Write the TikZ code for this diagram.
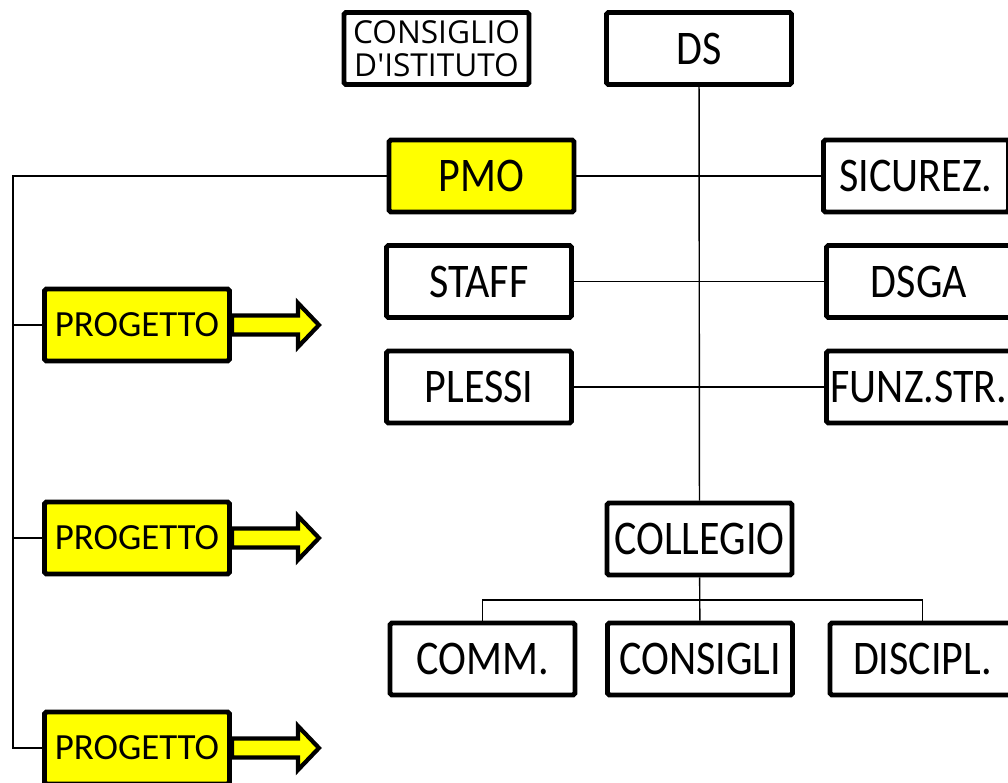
\documentclass[tikz,border=0pt]{standalone}
\usepackage{fontspec}
\setmainfont{Carlito}
\newfontfamily\boxfont[FakeStretch=0.87]{Carlito}
\newfontfamily\titlefont{Open Sans}
\usepackage{tikz}
\usetikzlibrary{positioning}
\definecolor{projyellow}{RGB}{255,255,0}

\begin{document}
\begin{tikzpicture}[x=0.02cm, y=-0.02cm,
    unit/.style={rectangle, draw=black, fill=white, line width=2.8pt, rounded corners=1pt,
                 minimum width=3.7cm, minimum height=1.44cm, inner sep=0pt, text centered,
                 font=\boxfont\fontsize{27.5}{30}\selectfont},
    project/.style={unit, fill=projyellow, font=\fontsize{21}{24}\selectfont},
    flowarrow/.pic={\draw[line width=2.4pt, fill=projyellow, line join=miter]
                    (0,-9.5) -- (66,-9.5) -- (66,-22) -- (87,0) -- (66,22) -- (66,9.5) -- (0,9.5) -- cycle;},
    link/.style={line width=0.8pt}
]
\useasboundingbox (0,0) rectangle (1008,783);

% Top
\node[unit, font=\titlefont\fontsize{18}{18.7}\selectfont, align=center] (consiglio) at (436.5, 48.5) {CONSIGLIO\\D\textquotesingle ISTITUTO};
\node[unit] (ds) at (699, 48.5) {DS};

% Middle
\node[unit, fill=projyellow] (pmo) at (481.5, 176) {PMO};
\node[unit] (sicur) at (916, 176) {SICUREZ.};
\node[unit] (staff) at (479, 281.5) {STAFF};
\node[unit] (dsga) at (919, 281.5) {DSGA};
\node[unit] (plessi) at (479, 387) {PLESSI};
\node[unit] (funz) at (919, 387) {FUNZ.STR.};

% Collegio
\node[unit] (collegio) at (699.5, 539) {COLLEGIO};
\node[unit] (comm) at (482.5, 659) {COMM.};
\node[unit] (consigli) at (700, 659) {CONSIGLI};
\node[unit] (discipl) at (922.5, 659) {DISCIPL.};

% Projects
\node[project] (prog1) at (137, 325) {PROGETTO};
\node[project] (prog2) at (137, 538) {PROGETTO};
\node[project] (prog3) at (137, 748) {PROGETTO};
\pic at (prog1.east) {flowarrow};
\pic at (prog2.east) {flowarrow};
\pic at (prog3.east) {flowarrow};

% Connections
\coordinate (bus) at (13, 176);
\coordinate (branch) at (700, 600);
\draw[link] (ds) -- (collegio);
\draw[link] (pmo) -- (sicur);
\draw[link] (staff) -- (dsga);
\draw[link] (plessi) -- (funz);
\draw[link] (pmo) -- (bus) |- (prog3);
\draw[link] (prog1) -- (prog1 -| bus);
\draw[link] (prog2) -- (prog2 -| bus);
\draw[link] (collegio) -- (consigli);
\draw[link] (comm) |- (branch) -| (discipl);

\end{tikzpicture}
\end{document}
